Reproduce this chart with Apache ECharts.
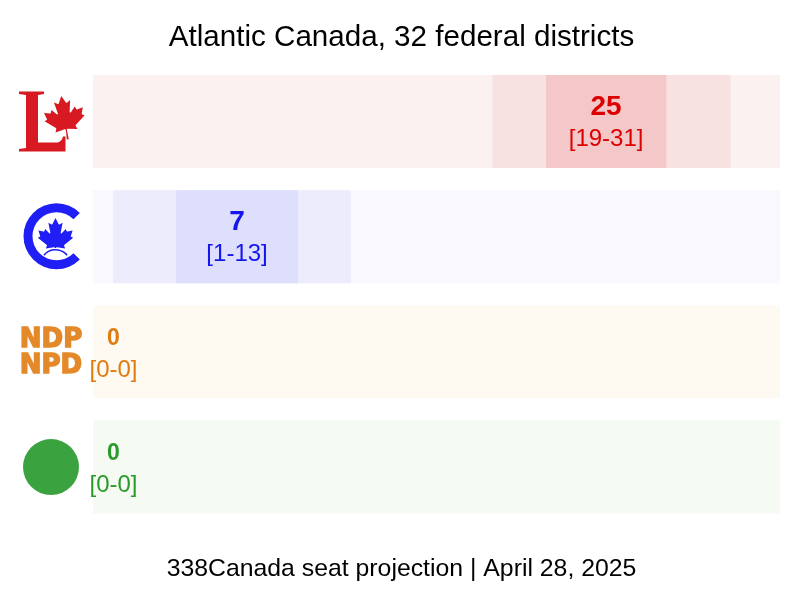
<!DOCTYPE html>
<html>
<head>
<meta charset="utf-8">
<script src="https://cdn.jsdelivr.net/npm/echarts@6/dist/echarts.min.js"></script>
<style>
html,body{margin:0;padding:0;background:#fff;}
#chart{width:803px;height:613px;}
</style>
</head>
<body>
<div id="chart"></div>
<script>
// ---- data ----
const parties = ['Liberal', 'Conservative', 'NDP', 'Green'];
const seats = [25, 7, 0, 0];
const rangeLow = [19, 1, 0, 0];
const rangeHigh = [31, 13, 0, 0];
// drawn band extents (seats)
const outerLow = [18.6, 0.93, 0, 0];
const outerHigh = [29.7, 12.0, 0, 0];
const innerLow = [21.1, 3.87, 0, 0];
const innerHigh = [26.7, 9.55, 0, 0];
const totalSeats = 32;
const titleText = 'Atlantic Canada, 32 federal districts';
const footerText = '338Canada seat projection | April 28, 2025';

// ---- styles ----
const bgColors = ['#fcf1f1', '#f8f8fe', '#fef9f1', '#f5faf3'];
const outerColors = ['#f8e1e1', '#ececfc', '#fef9f1', '#f5faf3'];
const innerColors = ['#f4c7c8', '#dedefd', '#fef9f1', '#f5faf3'];
const textColors = ['#dd0000', '#1515ee', '#e07b10', '#2a9a2a'];
const FONT = '"Liberation Sans", Arial, sans-serif';

const LEAF = 'm-90 2030 45-863a95 95 0 0 0-111-98l-859 151 116-320a65 65 0 0 0-20-73l-941-762 212-99a65 65 0 0 0 34-79l-186-572 542 115a65 65 0 0 0 73-38l105-247 423 454a65 65 0 0 0 111-57l-204-1052 327 189a65 65 0 0 0 91-27l332-652 332 652a65 65 0 0 0 91 27l327-189-204 1052a65 65 0 0 0 111 57l423-454 105 247a65 65 0 0 0 73 38l542-115-186 572a65 65 0 0 0 34 79l212 99-941 762a65 65 0 0 0-20 73l116 320-859-151a95 95 0 0 0-111 98l45 863z';
const LEAF_NOSTEM = 'M-45 1167a95 95 0 0 0-111-98l-859 151 116-320a65 65 0 0 0-20-73l-941-762 212-99a65 65 0 0 0 34-79l-186-572 542 115a65 65 0 0 0 73-38l105-247 423 454a65 65 0 0 0 111-57l-204-1052 327 189a65 65 0 0 0 91-27l332-652 332 652a65 65 0 0 0 91 27l327-189-204 1052a65 65 0 0 0 111 57l423-454 105 247a65 65 0 0 0 73 38l542-115-186 572a65 65 0 0 0 34 79l212 99-941 762a65 65 0 0 0-20 73l116 320-859-151a95 95 0 0 0-111 98z';

function logo(i, ox, oy) {
  if (i === 0) {
    return [
      { type: 'path', x: ox, y: oy,
        shape: { pathData: 'M-32 -30 L-7 -30 L-7 -27.5 L-13 -26.5 L-13 21 L7 21 Q11 19.5 12 15 L14.5 15 L14.5 30 L-32 30 L-32 27.5 L-25 26.5 L-25 -26.5 L-32 -27.5 Z' },
        style: { fill: '#d71a21' } },
      { type: 'path', x: ox + 13.5, y: oy - 4, scaleX: 0.0109, scaleY: 0.0109, rotation: 0.15,
        shape: { pathData: LEAF }, style: { fill: '#d71a21' } }
    ];
  }
  if (i === 1) {
    return [
      { type: 'sector', shape: { cx: ox + 5.5, cy: oy - 0.5, r0: 24, r: 33, startAngle: Math.PI * 0.25, endAngle: Math.PI * 1.75, clockwise: true },
        style: { fill: '#1f1ff5' } },
      { type: 'path', x: ox + 4.5, y: oy + 0.3, scaleX: 0.0095, scaleY: 0.0095,
        shape: { pathData: LEAF_NOSTEM }, style: { fill: '#1f1ff5' } },
      { type: 'arc', shape: { cx: ox + 4.5, cy: oy + 28, r: 15, startAngle: Math.PI * 1.22, endAngle: Math.PI * 1.78, clockwise: true },
        style: { stroke: '#1f1ff5', lineWidth: 1.6, fill: null } }
    ];
  }
  if (i === 2) {
    return [
      { type: 'text', style: { text: 'NDP', x: ox, y: oy - 12, align: 'center', verticalAlign: 'middle',
        font: 'bold 26px "DejaVu Sans"', fill: '#e4892a', stroke: '#e4892a', lineWidth: 1.4 } },
      { type: 'text', style: { text: 'NPD', x: ox, y: oy + 14.5, align: 'center', verticalAlign: 'middle',
        font: 'bold 26px "DejaVu Sans"', fill: '#e4892a', stroke: '#e4892a', lineWidth: 1.4 } }
    ];
  }
  return [
    { type: 'circle', shape: { cx: ox, cy: oy, r: 28 }, style: { fill: '#3aa340' } }
  ];
}

const chart = echarts.init(document.getElementById('chart'), null, { renderer: 'canvas' });
chart.setOption({
  animation: false,
  backgroundColor: '#ffffff',
  title: [
    { text: titleText, left: 'center', top: 23, padding: 0,
      textStyle: { fontSize: 29.6, fontWeight: 'normal', color: '#000', fontFamily: FONT } },
    { text: footerText, left: 'center', top: 556.5, padding: 0,
      textStyle: { fontSize: 24.8, fontWeight: 'normal', color: '#000', fontFamily: FONT } }
  ],
  grid: { left: 93, right: 23, top: 64, bottom: 88.4 },
  xAxis: { type: 'value', min: 0, max: totalSeats, show: false },
  yAxis: { type: 'category', data: parties, inverse: true, show: false },
  series: [{
    type: 'custom',
    clip: false,
    encode: { x: 0, y: 1 },
    data: parties.map((p, i) => [seats[i], i]),
    renderItem: function (params, api) {
      const i = api.value(1);
      const c = api.coord([0, i]);
      const band = api.size([0, 1])[1];
      const h = band * 0.8075;
      const y0 = c[1] - h / 2;
      const xAt = v => api.coord([v, i])[0];
      const children = [];
      children.push({ type: 'rect', shape: { x: xAt(0), y: y0, width: xAt(totalSeats) - xAt(0), height: h }, style: { fill: bgColors[i] } });
      if (outerHigh[i] > outerLow[i]) {
        children.push({ type: 'rect', shape: { x: xAt(outerLow[i]), y: y0, width: xAt(outerHigh[i]) - xAt(outerLow[i]), height: h }, style: { fill: outerColors[i] } });
      }
      if (innerHigh[i] > innerLow[i]) {
        children.push({ type: 'rect', shape: { x: xAt(innerLow[i]), y: y0, width: xAt(innerHigh[i]) - xAt(innerLow[i]), height: h }, style: { fill: innerColors[i] } });
      }
      const lx = Math.max((xAt(innerLow[i]) + xAt(innerHigh[i])) / 2, xAt(0) + 20.5);
      const big = innerHigh[i] > innerLow[i];
      children.push({ type: 'text', style: { text: String(seats[i]), x: lx, y: c[1] - (big ? 14.5 : 13.5), align: 'center', verticalAlign: 'middle',
        font: 'bold ' + (big ? 28 : 23) + 'px ' + FONT, fill: textColors[i] } });
      children.push({ type: 'text', style: { text: '[' + rangeLow[i] + '-' + rangeHigh[i] + ']', x: lx, y: c[1] + 18, align: 'center', verticalAlign: 'middle',
        font: '24px ' + FONT, fill: textColors[i] } });
      logo(i, xAt(0) - 42, c[1]).forEach(e => children.push(e));
      return { type: 'group', children: children };
    }
  }]
});
</script>
</body>
</html>
